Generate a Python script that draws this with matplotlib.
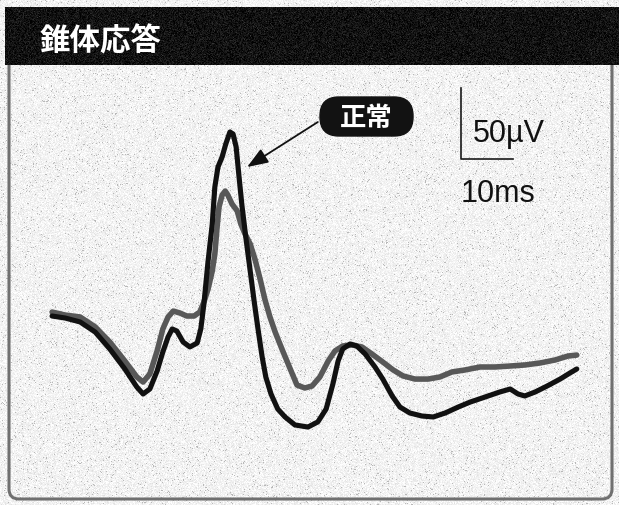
import numpy as np
import matplotlib.pyplot as plt
from matplotlib.patches import FancyBboxPatch

plt.rcParams['font.family'] = ['Noto Sans CJK JP', 'DejaVu Sans']

# 錐体応答 (cone response) traces: time in ms, amplitude in uV
normal_t = [0.4, 2.9, 5.8, 8.7, 11.5, 14.4, 16.7, 17.9, 19.2, 20.6, 21.7, 22.7, 23.5, 24.4,
            25.6, 26.9, 28.3, 29.0, 29.6, 30.4, 31.2, 31.7, 32.3, 33.1, 33.8, 34.6, 35.2,
            35.8, 36.3, 36.9, 37.7, 38.5, 39.2, 40.0, 40.8, 41.5, 42.5, 43.8, 45.2, 47.1,
            49.6, 51.5, 53.1, 54.4, 55.4, 56.3, 57.7, 59.0, 60.6, 62.5, 64.0, 65.8, 67.3,
            69.2, 71.5, 73.7, 76.0, 78.5, 80.8, 83.7, 86.5, 88.5, 90.0, 91.3, 93.3, 95.6,
            98.1, 100.0, 101.3]
normal_uv = [2.1, 0.7, -2.1, -9.2, -21.1, -35.2, -47.9, -52.8, -49.3, -36.6, -23.2, -12.7,
             -7.0, -8.5, -16.2, -19.7, -16.9, -7.0, 10.6, 40.8, 66.9, 93.0, 107.0, 114.1,
             123.2, 131.7, 130.3, 121.1, 102.1, 80.3, 56.3, 33.8, 14.1, -7.0, -26.8, -40.8,
             -52.8, -63.4, -69.0, -74.6, -76.1, -72.5, -63.4, -45.8, -29.6, -21.1, -17.6,
             -19.0, -24.6, -33.8, -42.3, -54.2, -62.0, -66.2, -68.3, -69.0, -66.2, -62.0,
             -58.5, -54.9, -51.4, -49.3, -52.8, -54.2, -51.4, -47.2, -42.3, -38.0, -35.2]

patient_t = [0.4, 2.9, 5.8, 8.7, 11.5, 14.4, 16.7, 17.9, 19.2, 20.6, 21.7, 22.7, 23.7, 25.0,
             26.3, 27.7, 28.8, 29.6, 30.4, 31.2, 31.7, 32.1, 32.5, 33.1, 33.7, 34.2, 35.0,
             36.0, 36.7, 37.5, 38.5, 39.4, 40.4, 41.3, 42.3, 43.3, 44.6, 46.2, 47.5, 49.0,
             50.4, 51.9, 53.5, 54.8, 56.3, 58.1, 60.0, 61.9, 64.0, 66.0, 67.9, 70.2, 72.7,
             75.0, 77.3, 79.8, 82.7, 85.6, 88.5, 91.3, 94.2, 97.1, 99.6, 101.3]
patient_uv = [4.9, 2.8, 1.4, -5.6, -16.2, -29.6, -40.8, -44.4, -38.7, -22.5, -7.0, 1.4, 5.6,
              4.2, 2.1, 2.1, 4.9, 12.0, 21.1, 33.8, 45.8, 63.4, 78.9, 87.3, 90.1, 87.3, 81.0,
              76.1, 66.9, 59.9, 52.8, 42.3, 28.2, 14.1, 1.4, -9.2, -21.1, -35.2, -46.5,
              -48.6, -47.2, -40.8, -29.6, -22.5, -19.0, -18.3, -19.7, -24.6, -30.3, -35.9,
              -40.1, -42.3, -42.3, -40.8, -37.3, -35.9, -33.8, -33.8, -33.1, -32.4, -31.0,
              -28.9, -26.1, -25.4]

title = '錐体応答'
label = '正常'
scale_ms = 10
scale_uv = 50

W, H = 619, 506
fig = plt.figure(figsize=(W / 100, H / 100), dpi=100)

# pixel-space layer: paper grain, frame and title band
bg = fig.add_axes([0, 0, 1, 1])
bg.set_xlim(0, W)
bg.set_ylim(H, 0)
bg.axis('off')
rng = np.random.default_rng(3)
paper = np.clip(0.95 + rng.normal(0, 0.035, (H, W)), 0, 1)
paper[rng.random((H, W)) < 0.03] = 0.72
bg.imshow(paper, cmap='gray', vmin=0, vmax=1, extent=(0, W, H, 0),
          interpolation='nearest', zorder=0)
bg.add_patch(FancyBboxPatch((9, 40), 603, 460, boxstyle='round,pad=0,rounding_size=10',
                            fc='none', ec='#707070', lw=2.2, zorder=1))
band = np.clip(0.07 + rng.normal(0, 0.05, (58, W - 5)), 0, 1)
bg.imshow(band, cmap='gray', vmin=0, vmax=1, extent=(5, W, 66, 8),
          interpolation='nearest', zorder=2)
bg.text(40, 41, title, color='white', fontsize=22, fontweight='bold',
        ha='left', va='center', zorder=3)
bg.add_patch(FancyBboxPatch((320, 98), 93, 39, boxstyle='round,pad=0,rounding_size=19',
                            fc='#121212', ec='#121212', zorder=3))
bg.text(366, 118, label, color='white', fontsize=19, fontweight='bold',
        ha='center', va='center', zorder=4)
bg.set_xlim(0, W)
bg.set_ylim(H, 0)

# data layer: 5.2 px per ms, 1.42 px per uV, origin at the trace start
ax = fig.add_axes([0, 0, 1, 1])
ax.patch.set_alpha(0)
ax.axis('off')
px_ms, px_uv, x0, y0 = 5.2, 1.42, 50, 320
ax.set_xlim(-x0 / px_ms, (W - x0) / px_ms)
ax.set_ylim(-(H - y0) / px_uv, y0 / px_uv)

ax.plot(patient_t, patient_uv, color='#585858', lw=4.0, solid_joinstyle='round',
        solid_capstyle='round')
ax.plot(normal_t, normal_uv, color='#111111', lw=3.7, solid_joinstyle='round',
        solid_capstyle='round')

# scale bar
bar_t, bar_uv = 79.0, 112.7
ax.plot([bar_t, bar_t, bar_t + scale_ms], [bar_uv + scale_uv, bar_uv, bar_uv],
        color='#1a1a1a', lw=1.2)
ax.text(bar_t + 2.3, 125.4, f'{scale_uv}\u00b5V', fontsize=22, color='#111',
        family=['Liberation Sans', 'DejaVu Sans'], ha='left', va='baseline')
ax.text(bar_t, 83.1, f'{scale_ms}ms', fontsize=22, color='#111',
        family=['Liberation Sans', 'DejaVu Sans'], ha='left', va='baseline')

ax.annotate('', xy=(37.9, 107.0), xytext=(51.5, 138.7),
            arrowprops=dict(arrowstyle='-|>,head_length=0.8,head_width=0.3',
                            color='#111', lw=1.3, mutation_scale=16,
                            shrinkA=0, shrinkB=0))

fig.savefig('out.png', dpi=100)
